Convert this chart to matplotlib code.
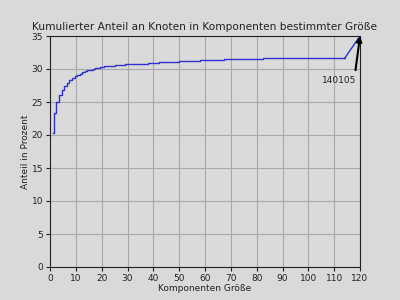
import matplotlib
matplotlib.use("Agg")
import matplotlib.pyplot as plt

sizes = [1, 2, 3, 4, 5, 6, 7, 8, 9, 10, 11, 12, 13, 14, 15, 16, 17, 18, 19, 20,
         22, 24, 26, 28, 30, 33, 36, 40, 44, 48, 52, 56, 60, 65, 70, 75, 80, 85,
         90, 100, 114]
percent = [20.3, 23.4, 25.0, 26.0, 26.8, 27.4, 27.9, 28.3, 28.6, 28.9, 29.1, 29.3,
           29.5, 29.65, 29.8, 29.9, 30.0, 30.1, 30.2, 30.3, 30.4, 30.45, 30.55,
           30.65, 30.7, 30.75, 30.8, 30.9, 31.0, 31.05, 31.15, 31.25, 31.4, 31.4,
           31.45, 31.5, 31.55, 31.6, 31.6, 31.6, 31.6]
last_size = 120
last_percent = 35.0
last_label = "140105"

xticks = list(range(0, 121, 10))
yticks = list(range(0, 36, 5))

fig = plt.figure(figsize=(4, 3), dpi=100, facecolor="#d9d9d9")
ax = fig.add_axes([0.125, 0.11, 0.775, 0.77], facecolor="#dadada")

ax.plot(sizes, percent, drawstyle="steps-mid", color="#3030d0", lw=1)
ax.plot([sizes[-1], last_size], [percent[-1], last_percent], color="#3030d0", lw=1)

ax.annotate(last_label, xy=(last_size, last_percent), xytext=(112, 28.3),
            ha="center", va="center", fontsize=6.5, color="#222222",
            arrowprops=dict(arrowstyle="-|>", color="black", lw=1.5,
                            mutation_scale=8, shrinkA=2, shrinkB=0,
                            relpos=(0.95, 1.0)))

ax.set_xlim(0, 120)
ax.set_ylim(0, 35)
ax.set_xticks(xticks)
ax.set_yticks(yticks)
ax.tick_params(labelsize=6.5, colors="#222222", length=3, pad=2)
ax.grid(True, color="#a8a8a8", lw=0.8)
ax.set_axisbelow(True)
for s in ax.spines.values():
    s.set_color("#222222")
    s.set_linewidth(0.8)

ax.set_title("Kumulierter Anteil an Knoten in Komponenten bestimmter Größe",
             fontsize=7.6, color="#222222", pad=4)
ax.set_xlabel("Komponenten Größe", fontsize=6.5, color="#222222", labelpad=1)
ax.set_ylabel("Anteil in Prozent", fontsize=6.5, color="#222222", labelpad=1)

fig.savefig("out.png", dpi=100, facecolor=fig.get_facecolor())
